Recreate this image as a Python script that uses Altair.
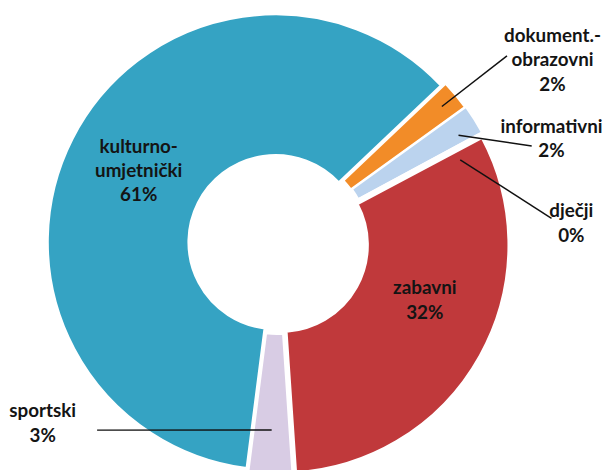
import math
import altair as alt
import pandas as pd

# ---- data ----
categories = ["kulturno-umjetnički", "dokument.-obrazovni", "informativni", "dječji", "zabavni", "sportski"]
values = [60.9, 2.1, 2.1, 0.1, 31.7, 3.1]
label_names = ["kulturno-\numjetnički", "dokument.-\nobrazovni", "informativni", "dječji", "zabavni", "sportski"]

# ---- style / layout ----
colors = ["#35A3C3", "#F28C28", "#BBD3EE", "#9BBB59", "#C0393B", "#D8CCE4"]
explode = [2, 4, 5, 0, 4, 4]
label_x = [132, 550, 549, 569, 421, 35]
label_y = [137, 25, 117, 202, 280, 404]
leader_r = [None, 212, 208, 203, None, 185]
leader_dt = [0, 0, 1.4, 3.7, 0, 0]
leader_ex = [None, 504, 529, 549, None, 90]
leader_ey = [None, 45, 136, 209, None, 423]

CX, CY = 272, 234
R_IN, R_OUT = 88, 230
START = math.radians(187.3)

labels = [f"{n}\n{round(v)}%" for n, v in zip(label_names, values)]

df = pd.DataFrame({
    "category": categories,
    "value": values,
    "order": list(range(len(categories))),
    "label": labels,
    "explode": explode,
    "lx": label_x,
    "ly": label_y,
    "lr": leader_r,
    "ldt": leader_dt,
    "ex": leader_ex,
    "ey": leader_ey,
})

base = (
    alt.Chart(df)
    .transform_joinaggregate(total="sum(value)")
    .transform_window(cum="sum(value)", sort=[alt.SortField("order")], frame=[None, 0])
    .transform_calculate(
        mid=f"{START} + 2*PI*(datum.cum - datum.value/2)/datum.total",
    )
    .transform_calculate(
        px=f"{CX} + datum.explode*sin(datum.mid)",
        py=f"{CY} - datum.explode*cos(datum.mid)",
    )
)

arcs = base.mark_arc(
    innerRadius=R_IN, outerRadius=R_OUT, stroke="white", strokeWidth=2
).encode(
    theta=alt.Theta("value:Q", stack=True,
                    scale=alt.Scale(range=[START, START + 2 * math.pi])),
    order=alt.Order("order:Q"),
    color=alt.Color("category:N", scale=alt.Scale(domain=categories, range=colors), legend=None),
    x=alt.X("px:Q", scale=None),
    y=alt.Y("py:Q", scale=None),
)

leaders = (
    base.transform_filter("isValid(datum.lr)")
    .transform_calculate(
        sx="datum.px + datum.lr*sin(datum.mid + datum.ldt*PI/180)",
        sy="datum.py - datum.lr*cos(datum.mid + datum.ldt*PI/180)",
    )
    .mark_rule(color="#111111", strokeWidth=1.5)
    .encode(
        x=alt.X("sx:Q", scale=None),
        y=alt.Y("sy:Q", scale=None),
        x2="ex:Q",
        y2="ey:Q",
    )
)

texts = alt.Chart(df).mark_text(
    font="Lato", fontWeight="bold", fontSize=19, lineBreak="\n", lineHeight=24.5,
    align="center", baseline="middle", color="#141414"
).encode(
    x=alt.X("lx:Q", scale=None),
    y=alt.Y("ly:Q", scale=None),
    text="label:N",
)

chart = (
    alt.layer(arcs, leaders, texts)
    .properties(width=595, height=454, padding=0)
    .configure_view(stroke=None)
)

chart.save("out.html", embed_options={"renderer": "svg", "actions": False})
